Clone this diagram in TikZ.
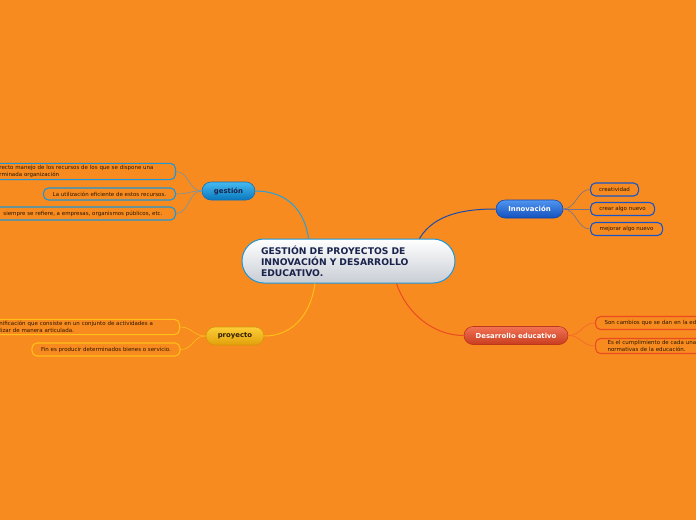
\documentclass[tikz,border=0pt]{standalone}
\usepackage{fontspec}
\setmainfont{DejaVu Sans}
\usetikzlibrary{positioning,calc}
\definecolor{bgorange}{RGB}{247,139,31}
\definecolor{leaftext}{RGB}{45,22,0}
\definecolor{navy}{RGB}{25,35,75}
\definecolor{gesblue}{RGB}{30,150,215}
\definecolor{innblue}{RGB}{25,85,200}
\definecolor{proyellow}{RGB}{255,190,25}
\definecolor{desred}{RGB}{235,75,35}
\definecolor{gestwig}{RGB}{110,150,175}
\definecolor{inntwig}{RGB}{115,115,140}
\definecolor{destwig}{RGB}{245,100,45}
\definecolor{geslink}{RGB}{40,160,220}
\definecolor{innlink}{RGB}{30,75,170}

\begin{document}
\begin{tikzpicture}[x=1pt,y=-1pt,
  leaf/.style={draw,rounded corners=5pt,line width=1.1pt,fill=bgorange,
    font=\fontsize{5.5}{6.8}\selectfont,text=leaftext,inner ysep=2pt,minimum height=13pt},
  branch/.style={draw,line width=0.6pt,rounded corners=9pt,minimum height=18pt,
    font=\fontsize{6.9}{8}\selectfont\bfseries,inner sep=0pt},
  link/.style={line width=1pt},
  twig/.style={line width=0.6pt}]
\useasboundingbox[fill=bgorange] (0,0) rectangle (696,520);

% central topic
\node[draw=gesblue,line width=1pt,rounded corners=22pt,minimum width=213pt,minimum height=44pt,
  top color=white,bottom color={rgb,255:red,200;green,205;blue,212},
  text width=175pt,align=left,text=navy,font=\fontsize{9.2}{11}\selectfont\bfseries]
  (cen) at (348.5,261) {GESTIÓN DE PROYECTOS DE\\INNOVACIÓN Y DESARROLLO\\EDUCATIVO.};

% main branches
\node[branch,minimum width=53pt,draw={rgb,255:red,20;green,110;blue,180},
  top color={rgb,255:red,70;green,185;blue,240},bottom color={rgb,255:red,10;green,120;blue,190},
  text=navy] (ges) at (228.5,191) {gestión};
\node[branch,minimum width=67pt,draw={rgb,255:red,20;green,70;blue,170},
  top color={rgb,255:red,80;green,150;blue,240},bottom color={rgb,255:red,20;green,80;blue,190},
  text=white] (inn) at (529.5,209) {Innovación};
\node[branch,minimum width=58pt,draw={rgb,255:red,215;green,150;blue,10},
  top color={rgb,255:red,252;green,205;blue,55},bottom color={rgb,255:red,225;green,160;blue,10},
  text={rgb,255:red,50;green,30;blue,0}] (proy) at (235,336) {proyecto};
\node[branch,minimum width=104pt,draw={rgb,255:red,190;green,55;blue,25},
  top color={rgb,255:red,242;green,115;blue,85},bottom color={rgb,255:red,200;green,60;blue,30},
  text=white] (des) at (516,335.5) {Desarrollo educativo};

% gestion leaves
\node[leaf,draw=gesblue,anchor=east,align=left,text width=168pt,inner xsep=8pt]
  (g1) at (176,171.5) {recto manejo de los recursos de los que se dispone una\\rminada organización};
\node[leaf,draw=gesblue,anchor=east,minimum width=132pt,minimum height=12pt]
  (g2) at (176,194) {La utilización eficiente de estos recursos.};
\node[leaf,draw=gesblue,anchor=east,minimum width=185pt]
  (g3) at (176,213.5) {siempre se refiere, a empresas, organismos públicos, etc.};

% innovacion leaves
\node[leaf,draw=innblue,anchor=west,minimum width=48pt] (i1) at (590,189.5) {creatividad};
\node[leaf,draw=innblue,anchor=west,minimum width=64pt] (i2) at (590,209) {crear algo nuevo};
\node[leaf,draw=innblue,anchor=west,minimum width=72pt] (i3) at (590,229) {mejorar algo nuevo};

% proyecto leaves
\node[leaf,draw=proyellow,anchor=east,align=left,text width=172pt,inner xsep=8pt]
  (p1) at (180,327) {nificación que consiste en un conjunto de actividades a\\lizar de manera articulada.};
\node[leaf,draw=proyellow,minimum width=148pt] (p2) at (106,349.5)
  {Fin es producir determinados bienes o servicio.};

% desarrollo leaves
\node[leaf,draw=desred,anchor=west,align=left,text width=110pt,inner xsep=9pt]
  (d1) at (595,323) {Son cambios que se dan en la ed};
\node[leaf,draw=desred,anchor=west,align=left,text width=120pt,inner xsep=12pt]
  (d2) at (595,346) {Es el cumplimiento de cada una\\normativas de la educación.};

% main connectors
\draw[link,geslink] ($(cen.north)+(-40,0)$)
  .. controls +(-5,-35) and +(25,0) .. (ges.east);
\draw[link,innlink] ($(cen.north)+(71,0)$)
  .. controls +(15,-25) and +(-30,0) .. (inn.west);
\draw[link,proyellow] ($(cen.south)+(-33.5,0)$)
  .. controls +(-5,35) and +(25,0) .. (proy.east);
\draw[link,desred] ($(cen.south)+(48,0)$)
  .. controls +(10,30) and +(-30,0) .. (des.west);

% leaf connectors
\foreach \l in {g1,g2,g3}
  \draw[twig,gestwig] (ges.west) .. controls +(-13,0) and +(13,0) .. (\l.east);
\foreach \l in {i1,i2,i3}
  \draw[twig,inntwig] (inn.east) .. controls +(13,0) and +(-13,0) .. (\l.west);
\foreach \l in {p1,p2}
  \draw[twig,proyellow] (proy.west) .. controls +(-13,0) and +(13,0) .. (\l.east);
\foreach \l in {d1,d2}
  \draw[twig,destwig] (des.east) .. controls +(13,0) and +(-13,0) .. (\l.west);
\end{tikzpicture}
\end{document}
